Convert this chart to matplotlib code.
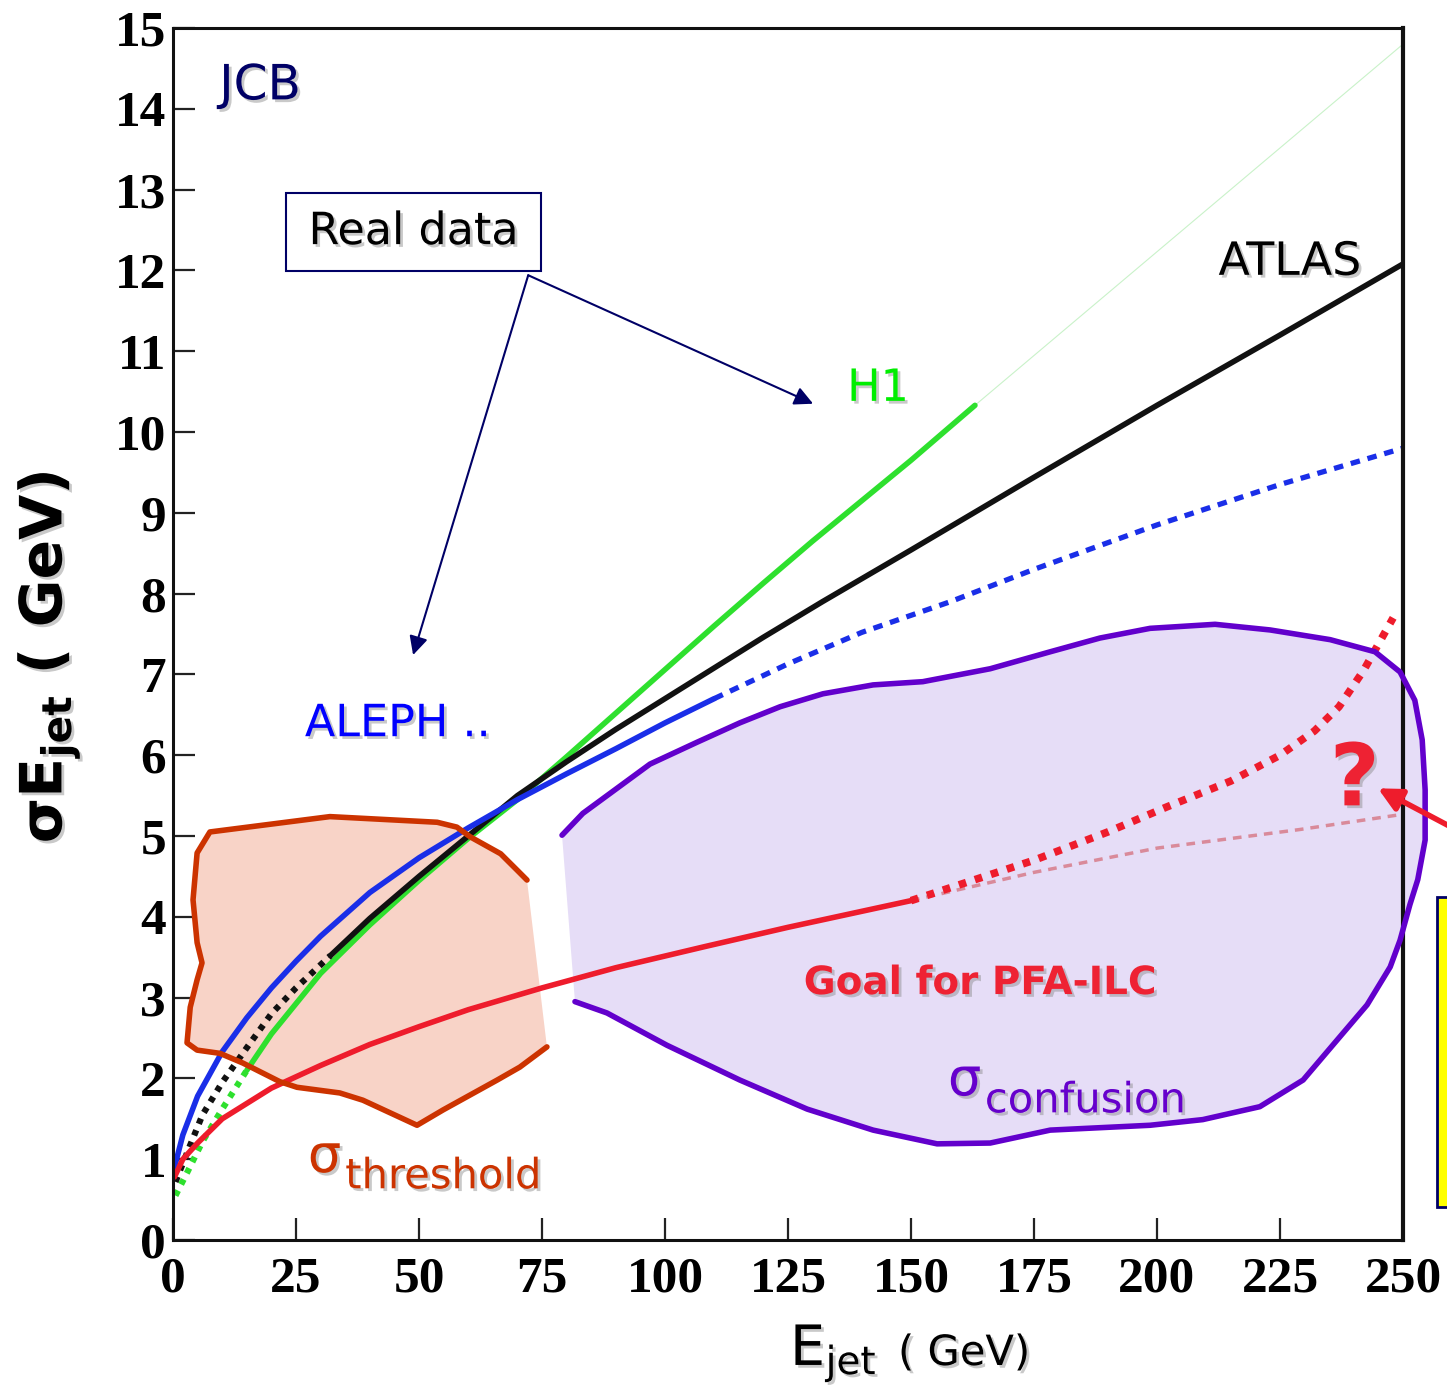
import matplotlib
matplotlib.use('Agg')
import matplotlib.pyplot as plt
from matplotlib.patches import Polygon, Rectangle
import matplotlib.patheffects as pe

# ---------------- data ----------------
x_ticks = [0, 25, 50, 75, 100, 125, 150, 175, 200, 225, 250]
y_ticks = list(range(0, 16))

# H1 (green)
h1_lo_x = [0.5, 3, 6, 10, 15]
h1_lo_y = [0.55, 0.85, 1.22, 1.62, 2.1]
h1_x = [15, 20, 30, 40, 50, 60, 70, 80, 90, 100, 110, 120, 130, 140, 150, 163]
h1_y = [2.1, 2.55, 3.3, 3.9, 4.45, 4.97, 5.45, 5.98, 6.52, 7.06, 7.6, 8.13, 8.65, 9.15, 9.65, 10.33]
h1_ext_x = [163, 250]
h1_ext_y = [10.33, 14.8]

# ATLAS (black)
atlas_lo_x = [0.5, 3, 6, 10, 15, 20, 25, 32]
atlas_lo_y = [0.72, 1.1, 1.55, 1.95, 2.38, 2.8, 3.12, 3.52]
atlas_x = [32, 40, 50, 60, 70, 80, 90, 100, 110, 120, 132, 150, 175, 200, 225, 250]
atlas_y = [3.52, 3.98, 4.5, 5.0, 5.5, 5.92, 6.32, 6.7, 7.08, 7.46, 7.9, 8.54, 9.44, 10.33, 11.2, 12.08]

# ALEPH (blue)
aleph_x = [0.3, 2, 5, 10, 15, 20, 25, 30, 40, 50, 60, 70, 80, 90, 100, 110]
aleph_y = [0.9, 1.3, 1.78, 2.33, 2.75, 3.12, 3.45, 3.76, 4.3, 4.73, 5.1, 5.45, 5.77, 6.08, 6.4, 6.7]
aleph_ext_x = [110, 125, 140, 158, 175, 200, 225, 250]
aleph_ext_y = [6.7, 7.13, 7.52, 7.9, 8.3, 8.85, 9.35, 9.8]

# Goal for PFA-ILC (red)
goal_x = [0.3, 2, 5, 10, 20, 30, 40, 50, 60, 75, 90, 108, 125, 150]
goal_y = [0.78, 1.0, 1.2, 1.5, 1.88, 2.16, 2.42, 2.64, 2.85, 3.12, 3.37, 3.63, 3.87, 4.2]
goal_up_x = [150, 165, 175, 190, 202, 215, 225, 232, 237, 242, 248]
goal_up_y = [4.2, 4.5, 4.7, 5.05, 5.36, 5.68, 6.0, 6.3, 6.6, 7.05, 7.7]
goal_lo_x = [150, 175, 200, 229, 249]
goal_lo_y = [4.2, 4.55, 4.85, 5.08, 5.26]

# sigma_threshold region outline
thr_x = [71.95, 69.9, 66.6, 60.4, 57.7, 53.7, 31.9, 7.5, 4.9, 4.07, 4.9, 5.9, 4.9, 3.5, 2.85,
         4.9, 9.55, 14.2, 21.7, 25.2, 33.9, 38.6, 49.6, 54.9, 65.9, 70.5, 76.0]
thr_y = [4.455, 4.58, 4.78, 4.99, 5.11, 5.17, 5.24, 5.05, 4.79, 4.21, 3.68, 3.43, 3.22, 2.88, 2.44,
         2.35, 2.31, 2.19, 1.96, 1.89, 1.82, 1.73, 1.42, 1.61, 1.98, 2.14, 2.39]

# sigma_confusion region outline
conf_x = [79.07, 83.3, 96.95, 106.5, 115.2, 123.4, 132.1, 142.3, 152.4, 166.1, 178.3, 188.4,
          198.6, 211.8, 223.0, 235.2, 244.3, 249.4, 252.4, 253.9, 254.5, 254.5, 253.0, 251.4,
          249.4, 247.4, 242.7, 237.8, 229.7, 220.9, 209.3, 198.6, 178.3, 166.1, 155.3, 142.3,
          128.9, 115.2, 100.4, 88.2, 81.7]
conf_y = [5.01, 5.28, 5.89, 6.16, 6.40, 6.60, 6.76, 6.87, 6.91, 7.07, 7.28, 7.45,
          7.57, 7.62, 7.55, 7.43, 7.28, 7.03, 6.68, 6.19, 5.57, 4.95, 4.46, 4.15,
          3.71, 3.38, 2.91, 2.56, 1.98, 1.65, 1.49, 1.42, 1.36, 1.20, 1.19, 1.36,
          1.62, 1.98, 2.41, 2.81, 2.95]

# ---------------- figure ----------------
W, H = 1447, 1391
fig = plt.figure(figsize=(W / 100, H / 100), dpi=100)
fig.patch.set_facecolor('white')
ax = fig.add_axes([173 / W, 151 / H, 1230 / W, 1212 / H])
ax.set_xlim(0, 250)
ax.set_ylim(0, 15)

shadow = [pe.withSimplePatchShadow(offset=(2, -2), shadow_rgbFace='#888888', alpha=0.45)]
sans = 'DejaVu Sans'

# regions (fills)
ax.add_patch(Polygon(list(zip(thr_x, thr_y)), closed=True, facecolor='#f8d3c7',
                     edgecolor='none', zorder=1))
ax.add_patch(Polygon(list(zip(conf_x, conf_y)), closed=True, facecolor='#e6ddf7',
                     edgecolor='none', zorder=1, clip_on=False))

# curves
GREEN = '#2ee02e'
BLUE = '#1a2ee8'
RED = '#ee1c2c'
BLACK = '#111111'
ax.plot(h1_ext_x, h1_ext_y, color='#c9f2c9', lw=0.8, zorder=2)
ax.plot(h1_lo_x, h1_lo_y, color=GREEN, lw=4.5, ls=(0, (0.9, 1.1)), zorder=2)
ax.plot(h1_x, h1_y, color=GREEN, lw=4, zorder=2, solid_capstyle='round',
        solid_joinstyle='round')
ax.plot(atlas_lo_x, atlas_lo_y, color=BLACK, lw=4.5, ls=(0, (0.9, 1.1)), zorder=2)
ax.plot(atlas_x, atlas_y, color=BLACK, lw=4, zorder=2, solid_capstyle='round',
        solid_joinstyle='round')
ax.plot(aleph_x, aleph_y, color=BLUE, lw=4, zorder=2, solid_capstyle='round',
        solid_joinstyle='round')
ax.plot(aleph_ext_x, aleph_ext_y, color=BLUE, lw=3.8, ls=(0, (1.8, 1.5)), zorder=2)
ax.plot(goal_lo_x, goal_lo_y, color='#d98a9a', lw=2.5, ls=(0, (2.5, 2.0)), zorder=2)
ax.plot(goal_x, goal_y, color=RED, lw=4, zorder=2, solid_capstyle='round',
        solid_joinstyle='round')
ax.plot(goal_up_x, goal_up_y, color=RED, lw=5.5, ls=(0, (1.0, 1.2)), zorder=2,
        dash_capstyle='butt')

# region outlines
ax.plot(thr_x, thr_y, color='#cc3300', lw=4, zorder=4, solid_joinstyle='round',
        solid_capstyle='round')
ax.plot(conf_x, conf_y, color='#6200cc', lw=4, zorder=4, solid_joinstyle='round',
        solid_capstyle='round', clip_on=False)

# texts
ax.text(17.7, 14.29, 'JCB', color='#000066', fontsize=35, family=sans,
        ha='center', va='center', zorder=6, path_effects=shadow)
ax.add_patch(Rectangle((23.0, 11.99), 51.8, 0.97, facecolor='white', edgecolor='#000066',
                       lw=1.5, zorder=5))
ax.text(48.9, 12.48, 'Real data', color='black', fontsize=32, family=sans,
        ha='center', va='center', zorder=6, path_effects=shadow)
arrow_kw = dict(arrowstyle='-|>', color='#000066', lw=1.5, mutation_scale=28,
                shrinkA=0, shrinkB=0)
ax.annotate('', xy=(130.1, 10.35), xytext=(72.2, 11.94), arrowprops=arrow_kw, zorder=5)
ax.annotate('', xy=(48.8, 7.24), xytext=(72.2, 11.94), arrowprops=arrow_kw, zorder=5)

ax.text(143.3, 10.54, 'H1', color='#00ee00', fontsize=32, family=sans,
        ha='center', va='center', zorder=6, path_effects=shadow)
ax.text(227.0, 12.10, 'ATLAS', color='black', fontsize=33, family=sans,
        ha='center', va='center', zorder=6, path_effects=shadow)
ax.text(26.8, 6.39, 'ALEPH ..', color='#0000ff', fontsize=32, family=sans,
        ha='left', va='center', zorder=6, path_effects=shadow)
ax.text(164.0, 3.18, 'Goal for PFA-ILC', color='#ee2233', fontsize=28, family=sans,
        weight='bold', ha='center', va='center', zorder=6, path_effects=shadow)
ax.text(157.5, 1.79, 'σ', color='#6600cc', fontsize=38, family=sans,
        ha='left', va='baseline', zorder=6, path_effects=shadow)
ax.text(165.0, 1.58, 'confusion', color='#6600cc', fontsize=30, family=sans,
        ha='left', va='baseline', zorder=6, path_effects=shadow)
ax.text(27.4, 0.84, 'σ', color='#cc3300', fontsize=38, family=sans,
        ha='left', va='baseline', zorder=6, path_effects=shadow)
ax.text(35.0, 0.64, 'threshold', color='#cc3300', fontsize=30, family=sans,
        ha='left', va='baseline', zorder=6, path_effects=shadow)
ax.text(240.2, 5.67, '?', color='#ee2233', fontsize=62, family=sans, weight='bold',
        ha='center', va='center', zorder=6, path_effects=shadow)
ax.annotate('', xy=(244.9, 5.59), xytext=(259.5, 5.12), annotation_clip=False,
            arrowprops=dict(arrowstyle='-|>', color='#ee1c2c', lw=4, mutation_scale=35,
                            shrinkA=0, shrinkB=0), zorder=6)

# yellow box on the right edge
fig.add_artist(Rectangle((1437 / W, 184 / H), 0.05, 310 / H, transform=fig.transFigure,
                         facecolor='#ffff00', edgecolor='#000066', lw=2, clip_on=False))

# axes styling
for s in ax.spines.values():
    s.set_linewidth(2.2)
    s.set_color('#111111')
ax.spines['right'].set_linewidth(3)
ax.set_xticks(x_ticks)
ax.set_yticks(y_ticks)
ax.set_xticklabels([str(v) for v in x_ticks])
ax.set_yticklabels([str(v) for v in y_ticks])
ax.tick_params(direction='in', length=16, width=1.6, color='#222222')
ax.tick_params(axis='x', pad=12)
ax.tick_params(axis='y', pad=5)
for lab in ax.get_xticklabels() + ax.get_yticklabels():
    lab.set_family('Liberation Serif')
    lab.set_weight('bold')
    lab.set_fontsize(37)

# axis labels
fig.text(790 / W, 1 - 1365 / H, r'E$_{\mathregular{jet}}$', fontsize=40, family=sans,
         ha='left', va='baseline', path_effects=shadow)
fig.text(898 / W, 1 - 1365 / H, '( GeV)', fontsize=30, family=sans,
         ha='left', va='baseline', path_effects=shadow)
fig.text(48 / W, 1 - 657 / H, r'σE$_{\mathregular{jet}}$ ( GeV)', fontsize=42, family=sans,
         weight='bold', rotation=90, ha='center', va='center', path_effects=shadow)

fig.savefig('out.png', dpi=100)
